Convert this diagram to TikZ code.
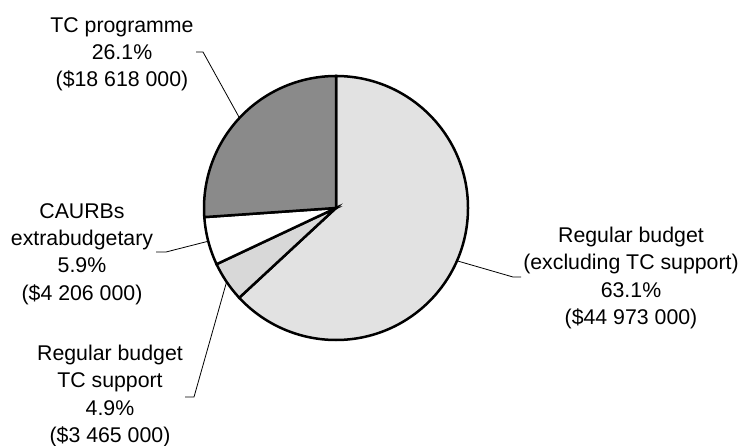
\documentclass[tikz,border=0pt]{standalone}
\usepackage{fontspec}
\setmainfont{Liberation Sans}
\usetikzlibrary{calc}
\definecolor{regfill}{HTML}{E2E2E2}
\definecolor{supfill}{HTML}{D8D8D8}
\definecolor{tcfill}{HTML}{8A8A8A}
\begin{document}
\begin{tikzpicture}[x=1pt,y=1pt,
  slice/.style={draw=black, line width=2.5pt, line join=miter},
  leader/.style={draw=black, line width=0.8pt},
  lbl/.style={align=center, font=\fontsize{21.3}{27.2}\selectfont, inner sep=0pt}]
\useasboundingbox (0,0) rectangle (741,-446);
\def\R{132pt}
\coordinate (O) at (336,-208);
% slices
\path[slice, fill=regfill] (O) -- ++(90:\R) arc[start angle=90, end angle=-137.16, radius=\R] -- cycle;
\path[slice, fill=supfill] (O) -- ++(-137.16:\R) arc[start angle=-137.16, end angle=-154.8, radius=\R] -- cycle;
\path[slice, fill=white] (O) -- ++(-154.8:\R) arc[start angle=-154.8, end angle=-176.04, radius=\R] -- cycle;
\path[slice, fill=tcfill] (O) -- ++(-176.04:\R) arc[start angle=-176.04, end angle=-270, radius=\R] -- cycle;
% edge points for leaders
\coordinate (eTC) at ($(O)+(136.98:\R)$);
\coordinate (eCA) at ($(O)+(194.58:\R)$);
\coordinate (eSU) at ($(O)+(214.02:\R)$);
\coordinate (eRB) at ($(O)+(-23.58:\R)$);
% labels
\node[lbl] (lTC) at (122,-54) {TC programme\\26.1\%\\(\$18 618 000)};
\node[lbl] (lCA) at (82,-254) {CAURBs\\extrabudgetary\\5.9\%\\(\$4 206 000)};
\node[lbl] (lSU) at (110,-396) {Regular budget\\TC support\\4.9\%\\(\$3 465 000)};
\node[lbl] (lRB) at (631,-278) {Regular budget\\(excluding TC support)\\63.1\%\\(\$44 973 000)};
% leader ticks
\coordinate (tTCa) at (196,-52);
\coordinate (tTCb) at (203,-52);
\coordinate (tCAa) at (156,-252);
\coordinate (tCAb) at (166,-252);
\coordinate (tSUa) at (185,-397);
\coordinate (tSUb) at (194,-397);
\coordinate (tRBa) at (521,-277);
\coordinate (tRBb) at (513,-277);
\draw[leader] (tTCa) -- (tTCb) -- (eTC);
\draw[leader] (tCAa) -- (tCAb) -- (eCA);
\draw[leader] (tSUa) -- (tSUb) -- (eSU);
\draw[leader] (tRBa) -- (tRBb) -- (eRB);
\end{tikzpicture}
\end{document}
